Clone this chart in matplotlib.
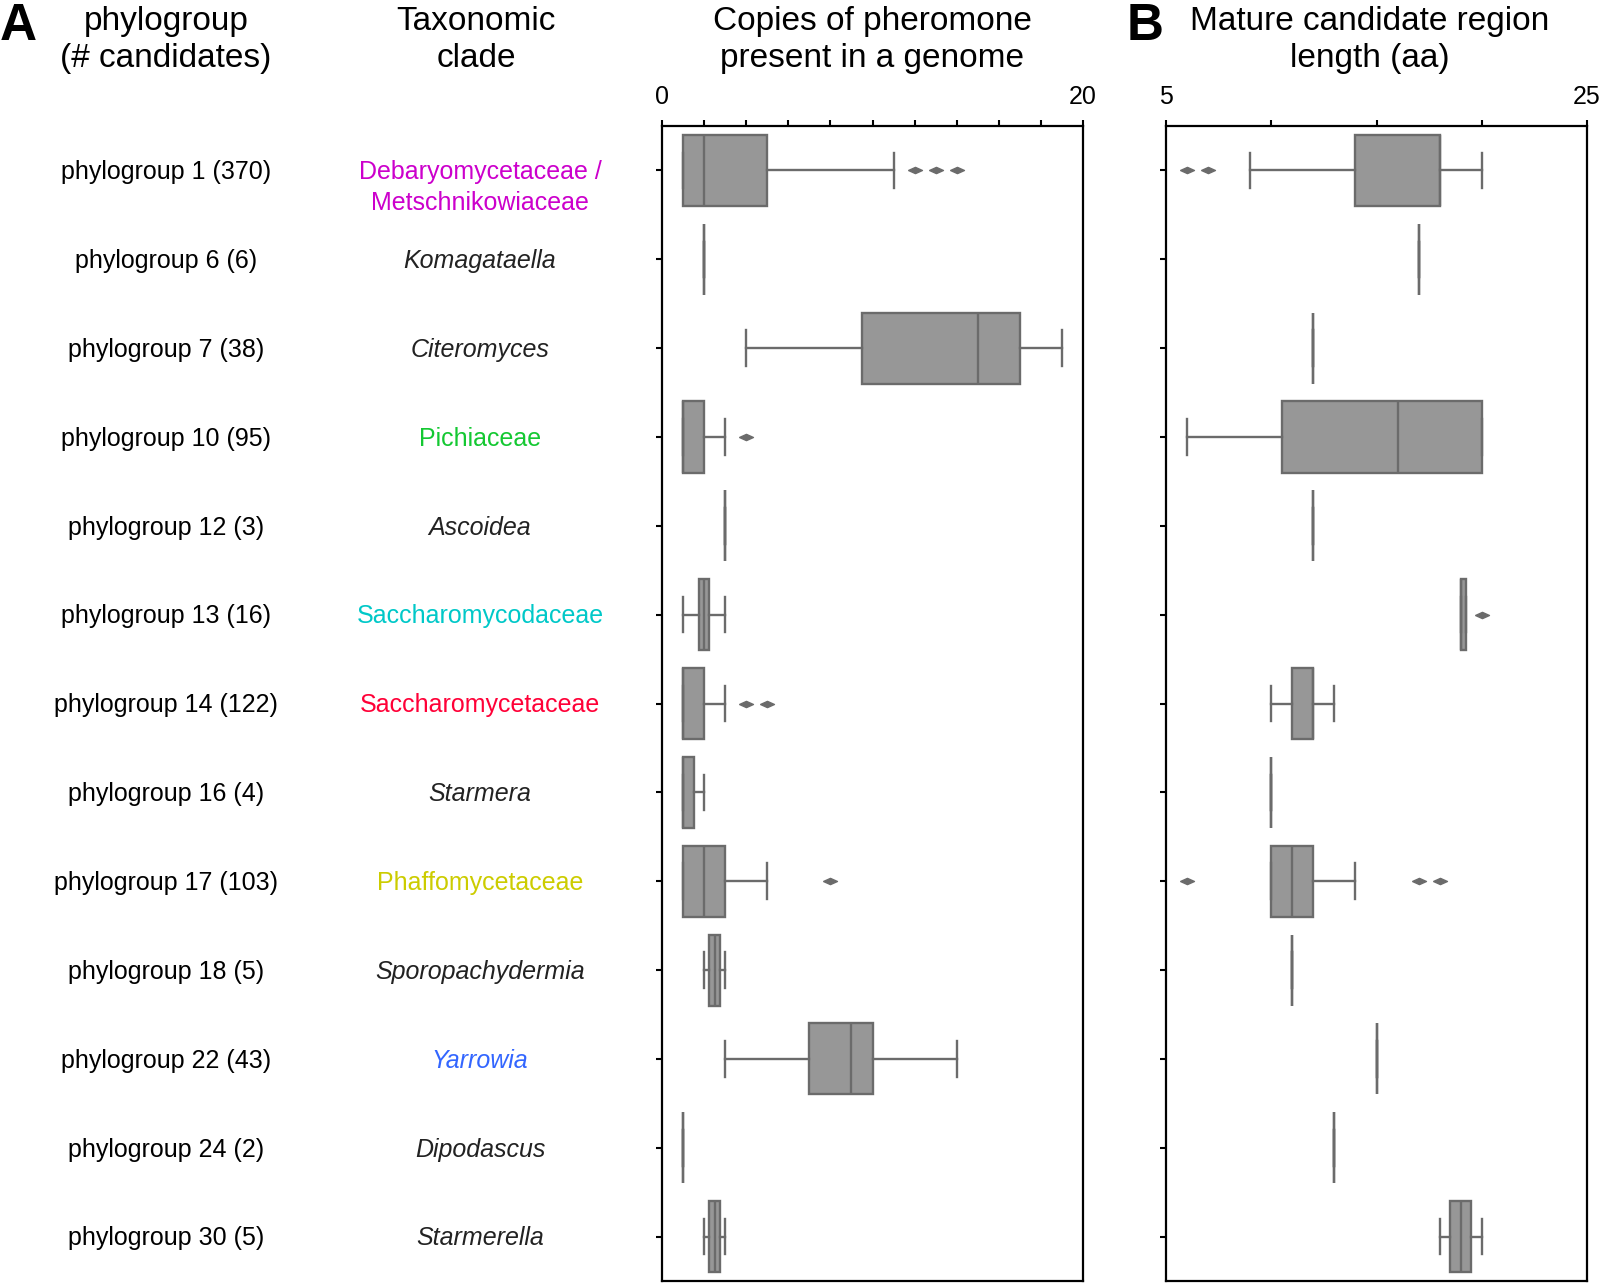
import matplotlib
matplotlib.use("Agg")
import matplotlib.pyplot as plt
import matplotlib.transforms as mtransforms

plt.rcParams['font.family'] = ['Liberation Sans', 'DejaVu Sans']

# ---------------- data ----------------
phylogroups = ["phylogroup 1 (370)", "phylogroup 6 (6)", "phylogroup 7 (38)",
               "phylogroup 10 (95)", "phylogroup 12 (3)", "phylogroup 13 (16)",
               "phylogroup 14 (122)", "phylogroup 16 (4)", "phylogroup 17 (103)",
               "phylogroup 18 (5)", "phylogroup 22 (43)", "phylogroup 24 (2)",
               "phylogroup 30 (5)"]
clades = ["Debaryomycetaceae /\nMetschnikowiaceae", "Komagataella", "Citeromyces",
          "Pichiaceae", "Ascoidea", "Saccharomycodaceae", "Saccharomycetaceae",
          "Starmera", "Phaffomycetaceae", "Sporopachydermia", "Yarrowia",
          "Dipodascus", "Starmerella"]
clade_colors = ["#CC00CC", "#222222", "#222222", "#14C832", "#222222", "#00C8C8",
                "#FF0037", "#222222", "#CCCC00", "#222222", "#3366FF",
                "#222222", "#222222"]
clade_italic = [False, True, True, False, True, False, False, True, False,
                True, True, True, True]

# Panel A: copies of pheromone per genome
a_q1  = [1, 2, 9.5, 1, 3, 1.75, 1, 1, 1, 2.25, 7, 1, 2.25]
a_med = [2, 2, 15, 1, 3, 2, 1, 1, 2, 2.5, 9, 1, 2.5]
a_q3  = [5, 2, 17, 2, 3, 2.25, 2, 1.5, 3, 2.75, 10, 1, 2.75]
a_lo  = [1, 2, 4, 1, 3, 1, 1, 1, 1, 2, 3, 1, 2]
a_hi  = [11, 2, 19, 3, 3, 3, 3, 2, 5, 3, 14, 1, 3]
a_fl  = [[12, 13, 14], [], [], [4], [], [], [4, 5], [], [8], [], [], [], []]

# Panel B: mature candidate region length (aa)
b_q1  = [14, 17, 12, 10.5, 12, 19, 11, 10, 10, 11, 15, 13, 18.5]
b_med = [18, 17, 12, 16, 12, 19, 12, 10, 11, 11, 15, 13, 19]
b_q3  = [18, 17, 12, 20, 12, 19.25, 12, 10, 12, 11, 15, 13, 19.5]
b_lo  = [9, 17, 12, 6, 12, 19, 10, 10, 10, 11, 15, 13, 18]
b_hi  = [20, 17, 12, 20, 12, 19.25, 13, 10, 14, 11, 15, 13, 20]
b_fl  = [[6, 7], [], [], [], [], [20], [], [], [6, 17, 18], [], [], [], []]

a_ticks = list(range(0, 21, 2))
a_ticklabels = ["0"] + [""] * 9 + ["20"]
b_ticks = [5, 10, 15, 20, 25]
b_ticklabels = ["5", "", "", "", "25"]

# ---------------- figure ----------------
W, H = 1600, 1283
fig = plt.figure(figsize=(W / 100, H / 100), dpi=100)

ax_bottom = 1 - 1281 / H
ax_height = (1281 - 126) / H
axA = fig.add_axes([662 / W, ax_bottom, 421 / W, ax_height])
axB = fig.add_axes([1166 / W, ax_bottom, 421 / W, ax_height])

face = "#979797"
edge = "#6b6b6b"
diamond = [(-1, 0), (0, 0.45), (1, 0), (0, -0.45), (-1, 0)]
positions = list(range(len(phylogroups)))


def draw(ax, q1, med, q3, lo, hi, fl, xlim, ticks, ticklabels):
    stats = []
    for i in range(len(q1)):
        stats.append(dict(q1=q1[i], med=med[i], q3=q3[i], whislo=lo[i],
                          whishi=hi[i], fliers=fl[i]))
    ax.bxp(stats, positions=positions, widths=0.8, orientation='horizontal',
           patch_artist=True, showfliers=True,
           boxprops=dict(facecolor=face, edgecolor=edge, linewidth=1.7),
           medianprops=dict(color=edge, linewidth=1.7),
           whiskerprops=dict(color=edge, linewidth=1.7),
           capprops=dict(color=edge, linewidth=1.7),
           flierprops=dict(marker=diamond, markerfacecolor=edge,
                           markeredgecolor=edge, markersize=10, linestyle='none'))
    ax.set_xlim(*xlim)
    ax.set_ylim(12.5, -0.5)
    ax.xaxis.tick_top()
    ax.set_xticks(ticks)
    ax.set_xticklabels(ticklabels)
    ax.set_yticks(positions)
    ax.set_yticklabels([])
    ax.tick_params(axis='x', direction='out', length=4, width=1.5, pad=8,
                   labelsize=18, colors='black')
    ax.tick_params(axis='y', direction='out', length=4, width=1.5)
    for s in ax.spines.values():
        s.set_linewidth(1.6)
        s.set_color('black')
    ax.set_facecolor('white')


draw(axA, a_q1, a_med, a_q3, a_lo, a_hi, a_fl, (0, 20), a_ticks, a_ticklabels)
draw(axB, b_q1, b_med, b_q3, b_lo, b_hi, b_fl, (5, 25), b_ticks, b_ticklabels)

# ---------------- row labels ----------------
trans = mtransforms.blended_transform_factory(fig.transFigure, axA.transData)
for i, (pg, cl, col, it) in enumerate(zip(phylogroups, clades, clade_colors, clade_italic)):
    fig.text(166 / W, i + 0.02, pg, transform=trans, ha='center', va='center',
             fontsize=18, color='black')
    ypos = i + (0.19 if "\n" in cl else 0.02)
    fig.text(480 / W, ypos, cl, transform=trans, ha='center', va='center',
             fontsize=18, color=col, fontstyle='italic' if it else 'normal',
             linespacing=1.35)

# ---------------- headers ----------------
hy = 1 - 40 / H
for x, s in [(166, "phylogroup\n(# candidates)"), (476, "Taxonomic\nclade"),
             (872, "Copies of pheromone\npresent in a genome"),
             (1370, "Mature candidate region\nlength (aa)")]:
    fig.text(x / W, hy, s, ha='center', va='center', fontsize=24, linespacing=1.28)
fig.text(0 / W, 1 - 2 / H, "A", ha='left', va='top', fontsize=37, fontweight='bold')
fig.text(1127 / W, 1 - 2 / H, "B", ha='left', va='top', fontsize=37, fontweight='bold')

fig.savefig("out.png", dpi=100, facecolor='white')
